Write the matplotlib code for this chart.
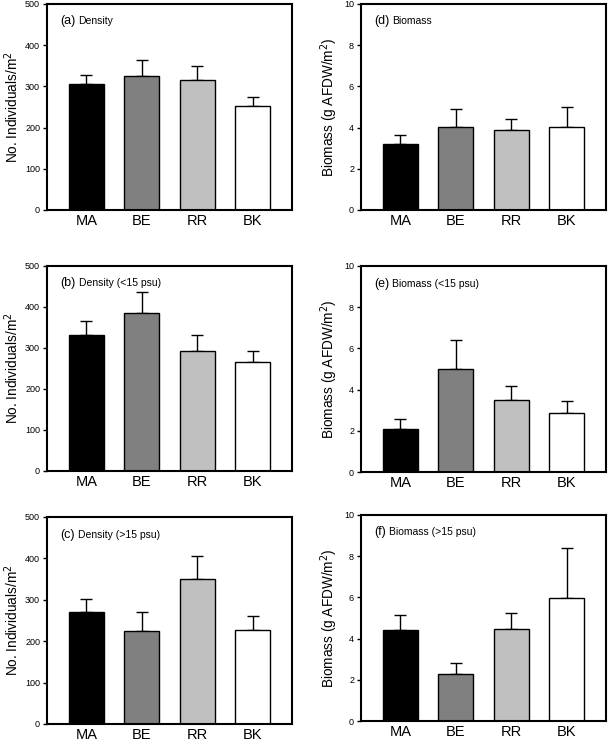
import matplotlib
matplotlib.use("Agg")
import matplotlib.pyplot as plt
import numpy as np

plt.rcParams['font.family'] = ['Liberation Sans', 'DejaVu Sans']

sites = ["MA", "BE", "RR", "BK"]
bar_colors = ["#000000", "#808080", "#c0c0c0", "#ffffff"]

dens_all = [305, 325, 316, 253]
dens_all_err = [23, 39, 33, 21]
dens_low = [331, 385, 292, 265]
dens_low_err = [36, 52, 40, 27]
dens_high = [270, 224, 349, 228]
dens_high_err = [33, 46, 56, 33]

bio_all = [3.22, 4.01, 3.90, 4.05]
bio_all_err = [0.44, 0.91, 0.53, 0.97]
bio_low = [2.10, 5.00, 3.50, 2.85]
bio_low_err = [0.49, 1.42, 0.69, 0.58]
bio_high = [4.40, 2.28, 4.45, 5.97]
bio_high_err = [0.75, 0.52, 0.79, 2.41]

panels = [
    ((0.0772, 0.7174, 0.4023, 0.2773), dens_all, dens_all_err, 500, "(a)", "Density", "No. Individuals/m$^2$"),
    ((0.0772, 0.3661, 0.4023, 0.2759), dens_low, dens_low_err, 500, "(b)", "Density (<15 psu)", "No. Individuals/m$^2$"),
    ((0.0772, 0.0256, 0.4023, 0.2786), dens_high, dens_high_err, 500, "(c)", "Density (>15 psu)", "No. Individuals/m$^2$"),
    ((0.5928, 0.7174, 0.4023, 0.2773), bio_all, bio_all_err, 10, "(d)", "Biomass", "Biomass (g AFDW/m$^2$)"),
    ((0.5928, 0.3647, 0.4023, 0.2773), bio_low, bio_low_err, 10, "(e)", "Biomass (<15 psu)", "Biomass (g AFDW/m$^2$)"),
    ((0.5928, 0.0296, 0.4023, 0.2773), bio_high, bio_high_err, 10, "(f)", "Biomass (>15 psu)", "Biomass (g AFDW/m$^2$)"),
]

fig = plt.figure(figsize=(6.09, 7.43), dpi=100)

for rect, vals, errs, ymax, tag, title, ylabel in panels:
    ax = fig.add_axes(rect)
    x = np.arange(len(sites))
    ax.bar(x, vals, width=0.63, color=bar_colors, edgecolor="black",
           linewidth=1.0, zorder=2)
    ax.errorbar(x, vals, yerr=[np.zeros(len(vals)), errs], fmt="none",
                ecolor="black", elinewidth=1.0, capsize=4.5, capthick=1.0,
                zorder=1)
    ax.set_xlim(-0.71, 3.71)
    ax.set_ylim(0, ymax)
    ax.set_yticks(np.linspace(0, ymax, 6))
    ax.set_xticks(x)
    ax.set_xticklabels(sites, fontsize=10.5)
    ax.tick_params(axis="x", length=0, pad=3)
    ax.tick_params(axis="y", direction="out", length=3, width=1.0,
                   labelsize=6.5, pad=2)
    for s in ax.spines.values():
        s.set_linewidth(1.5)
    ax.set_ylabel(ylabel, fontsize=9.8, labelpad=3)
    t1 = ax.text(0.055, 0.915, tag, transform=ax.transAxes, fontsize=9,
                 va="center", ha="left")
    ax.annotate(title, xy=(1, 0.5), xycoords=t1, xytext=(2, 0),
                textcoords="offset points", fontsize=7.5, va="center",
                ha="left")

fig.savefig("out.png", dpi=100)
